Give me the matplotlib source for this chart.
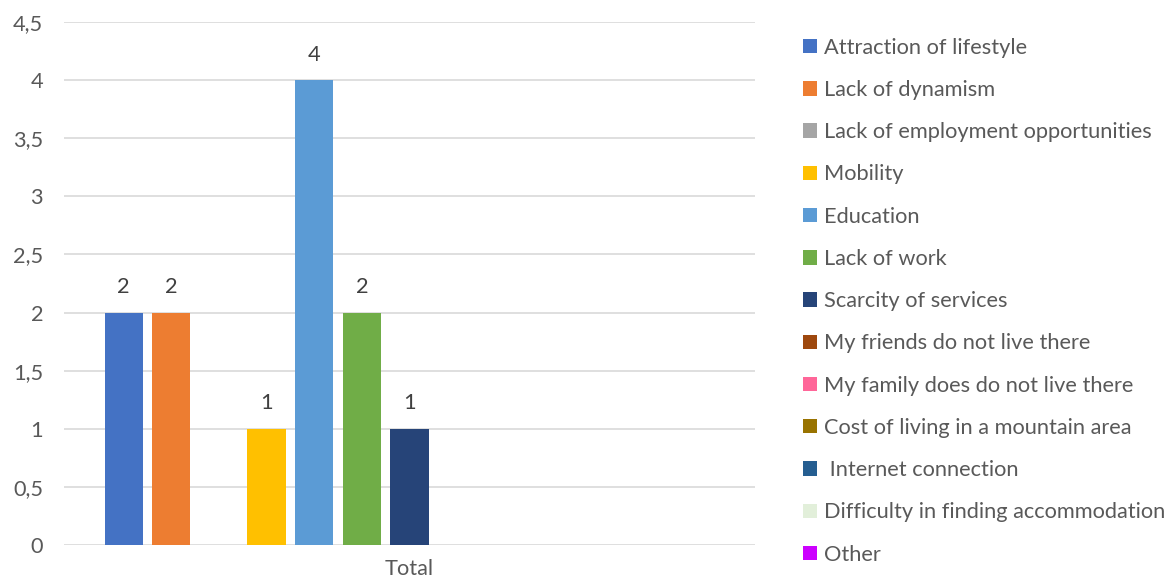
import matplotlib.pyplot as plt
import numpy as np
from matplotlib.ticker import FuncFormatter

plt.rcParams['font.family'] = ['Lato', 'DejaVu Sans']

# data
categories = ['Attraction of lifestyle', 'Lack of dynamism', 'Lack of employment opportunities',
              'Mobility', 'Education', 'Lack of work', 'Scarcity of services',
              'My friends do not live there', 'My family does do not live there',
              'Cost of living in a mountain area', ' Internet connection',
              'Difficulty in finding accommodation', 'Other']
values = [2, 2, 0, 1, 4, 2, 1, 0, 0, 0, 0, 0, 0]
colors = ['#4472C4', '#ED7D31', '#A5A5A5', '#FFC000', '#5B9BD5', '#70AD47', '#264478',
          '#9E480E', '#FF6699', '#997300', '#255E91', '#E2EFDA', '#CC00FF']
group_label = 'Total'
y_ticks = [0, 0.5, 1, 1.5, 2, 2.5, 3, 3.5, 4, 4.5]

txt = '#595959'
fs = 15.7

fig = plt.figure(figsize=(11.73, 5.85), dpi=100)
ax = fig.add_axes([0.0546, 0.0684, 0.589, 0.894])

x = np.arange(len(values))
bars = ax.bar(x, values, width=0.8, color=colors, label=categories, zorder=3)

# data labels only for non-zero bars
for xi, v in zip(x, values):
    if v > 0:
        ax.annotate(str(v), (xi, v), xytext=(0, 11), textcoords='offset points',
                    ha='center', va='bottom', fontsize=fs, color='#404040')

ax.set_xlim(-1.25, 13.25)
ax.set_ylim(0, 4.5)
ax.set_yticks(y_ticks)
ax.yaxis.set_major_formatter(FuncFormatter(lambda v, p: ('%g' % v).replace('.', ',')))
ax.set_xticks([6])
ax.set_xticklabels([group_label])
ax.tick_params(axis='both', length=0, labelsize=fs, colors=txt)
ax.tick_params(axis='y', pad=15)
ax.tick_params(axis='x', pad=10)
for s in ax.spines.values():
    s.set_visible(False)
ax.grid(axis='y', color='#D9D9D9', linewidth=1.2, zorder=0)
ax.set_axisbelow(True)

leg = fig.legend(handles=bars, labels=categories, loc='upper left',
                 bbox_to_anchor=(0.668, 0.969), frameon=False, fontsize=fs,
                 handlelength=0.64, handleheight=0.64, handletextpad=0.3,
                 labelspacing=1.02)
for t in leg.get_texts():
    t.set_color(txt)

fig.savefig('out.png', dpi=100)
